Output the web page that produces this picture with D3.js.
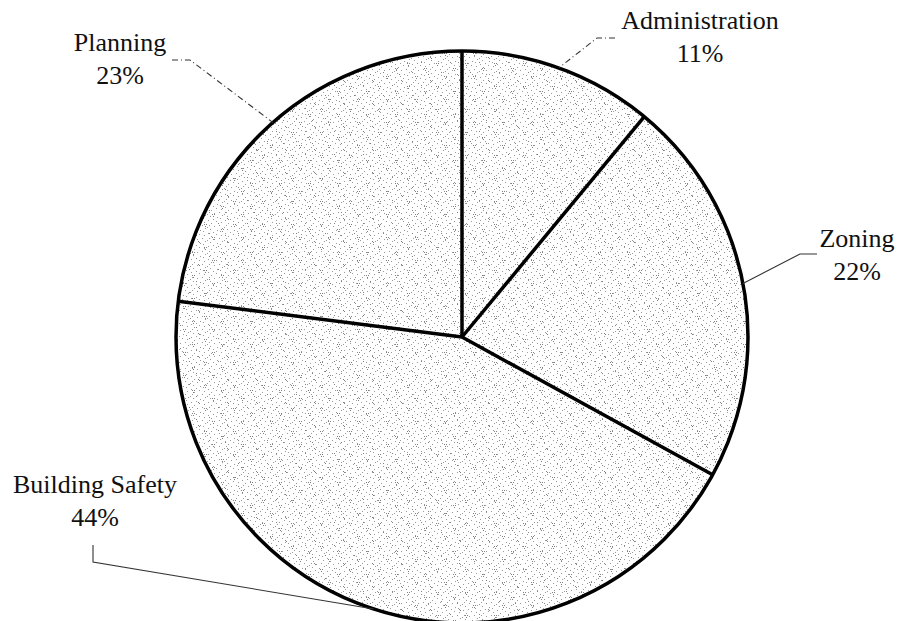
<!DOCTYPE html>
<html>
<head>
<meta charset="utf-8">
<script src="https://cdn.jsdelivr.net/npm/d3@7"></script>
<style>
  html, body { margin: 0; padding: 0; background: #fff; }
  svg { display: block; }
  text { font-family: "Liberation Serif", "Times New Roman", serif; fill: #111; }
</style>
</head>
<body>
<svg id="chart" width="900" height="621"></svg>
<script>
// Budget share by division, clockwise from 12 o'clock
const categories = ["Administration", "Zoning", "Building Safety", "Planning"];
const shares = [11, 22, 44, 23];
const percentLabels = ["11%", "22%", "44%", "23%"];

const width = 900, height = 621;
const cx = 462, cy = 337, radius = 286;

const svg = d3.select("#chart");

// Stippled grey fill: two dot tiles with unrelated periods
const defs = svg.append("defs");
function dotTile(id, w, h, pts, colour) {
  const p = defs.append("pattern")
    .attr("id", id)
    .attr("patternUnits", "userSpaceOnUse")
    .attr("width", w).attr("height", h);
  pts.forEach(([x, y]) => {
    p.append("rect").attr("x", x).attr("y", y).attr("width", 1).attr("height", 1).attr("fill", colour);
  });
}
dotTile("stippleA", 17, 13,
  [[1,0],[9,1],[14,2],[4,3],[12,5],[7,6],[0,7],[15,8],[3,9],[10,10],[6,12],[13,11],[2,5]],
  "#9a9a9a");
dotTile("stippleB", 29, 23,
  [[3,2],[5,2],[4,4],[20,7],[22,7],[21,9],[11,15],[13,15],[12,17],[26,19],[27,20],[8,11],[17,1],[24,13]],
  "#808080");

const pie = d3.pie().sort(null).value(d => d).startAngle(0).endAngle(2 * Math.PI);
const arcs = pie(shares);
const arc = d3.arc().innerRadius(0).outerRadius(radius);
const rim = d3.arc().innerRadius(radius).outerRadius(radius);

const g = svg.append("g").attr("transform", `translate(${cx},${cy})`);

["stippleA", "stippleB"].forEach(id => {
  g.selectAll(`path.${id}`)
    .data(arcs)
    .join("path")
    .attr("class", id)
    .attr("d", arc)
    .attr("fill", `url(#${id})`)
    .attr("stroke", "none");
});

// Slice edges
g.selectAll("line.edge")
  .data(arcs)
  .join("line")
  .attr("class", "edge")
  .attr("x1", 0).attr("y1", 0)
  .attr("x2", d => radius * Math.sin(d.startAngle))
  .attr("y2", d => -radius * Math.cos(d.startAngle))
  .attr("stroke", "#000")
  .attr("stroke-width", 3.5);

g.append("circle")
  .attr("r", radius)
  .attr("fill", "none")
  .attr("stroke", "#000")
  .attr("stroke-width", 3.5);

// Label placement: text anchor, elbow points, line dash
const labelLayout = [
  { tx: 700, ty: 29, elbow: [[615, 38], [597, 38]], dash: "6,3,1,3" },
  { tx: 857, ty: 247, elbow: [[817, 254], [800, 254]], dash: null },
  { tx: 95, ty: 493, elbow: [[93, 545], [93, 562]], dash: null },
  { tx: 120, ty: 51, elbow: [[172, 60], [190, 60]], dash: "6,3,1,3" }
];

arcs.forEach((d, i) => {
  const L = labelLayout[i];
  const [rx, ry] = rim.centroid(d);
  const pts = L.elbow.concat([[cx + rx, cy + ry]]);
  svg.append("path")
    .attr("d", d3.line()(pts))
    .attr("fill", "none")
    .attr("stroke", "#333")
    .attr("stroke-width", 1.1)
    .attr("stroke-dasharray", L.dash);
  const t = svg.append("text")
    .attr("text-anchor", "middle")
    .attr("font-size", 26);
  t.append("tspan").attr("x", L.tx).attr("y", L.ty).text(categories[i]);
  t.append("tspan").attr("x", L.tx).attr("y", L.ty + 33).text(percentLabels[i]);
});
</script>
</body>
</html>
